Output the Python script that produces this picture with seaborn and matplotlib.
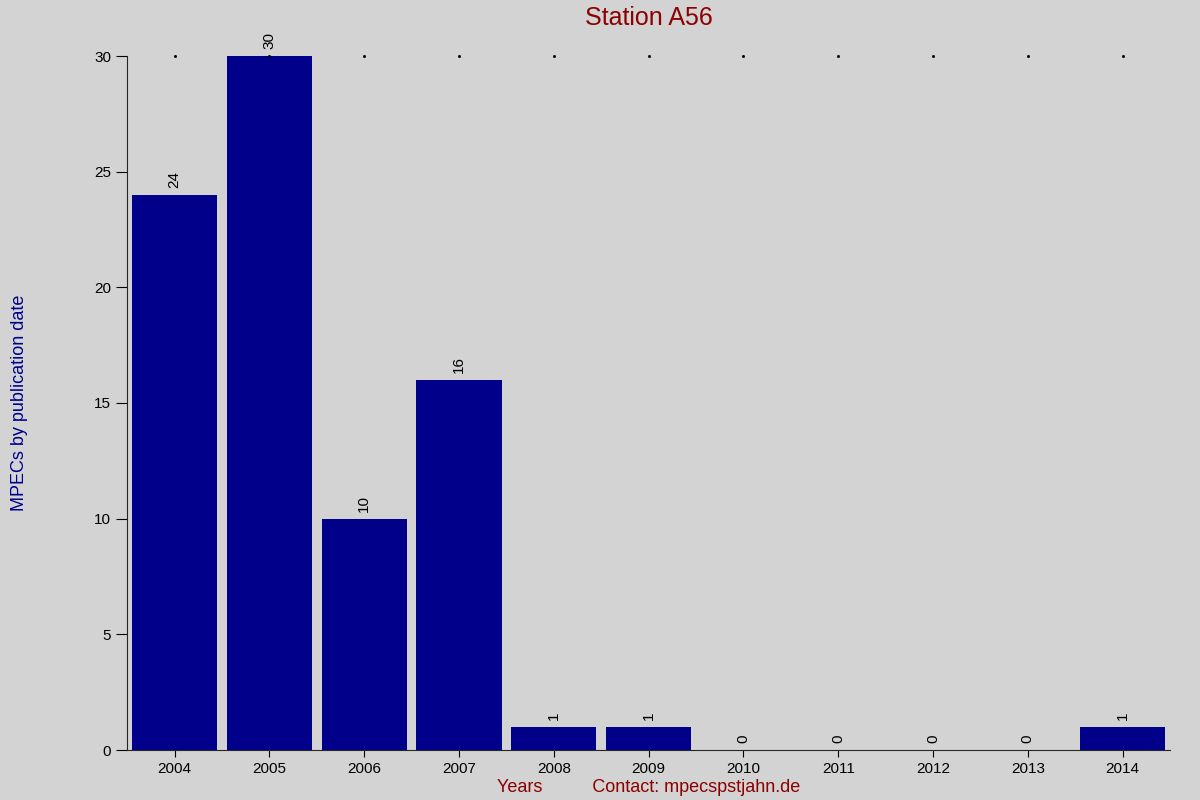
import matplotlib
matplotlib.use("Agg")
import matplotlib.pyplot as plt
import seaborn as sns
import pandas as pd

years = ["2004", "2005", "2006", "2007", "2008", "2009", "2010", "2011", "2012", "2013", "2014"]
counts = [24, 30, 10, 16, 1, 1, 0, 0, 0, 0, 1]

sns.set_style("ticks")
plt.rcParams["font.family"] = ["Liberation Sans", "DejaVu Sans"]

df = pd.DataFrame({"year": years, "count": counts})

fig = plt.figure(figsize=(12, 8), dpi=100, facecolor="#d3d3d3")
ax = fig.add_axes([0.106, 0.0625, 0.869, 0.8675])
ax.set_facecolor("#d3d3d3")
sns.barplot(data=df, x="year", y="count", color="#00008b", saturation=1,
            width=0.9, edgecolor="none", linewidth=0, ax=ax)

for i, v in enumerate(counts):
    ax.text(i, v + 0.3, str(v), rotation=90, ha="center", va="bottom",
            fontsize=11, color="black")

ax.set_xlim(-0.5, 10.5)
ax.set_ylim(0, 30)
ax.set_yticks([0, 5, 10, 15, 20, 25, 30])
ax.tick_params(axis="y", direction="out", length=8, labelsize=11, colors="black")
ax.tick_params(axis="x", direction="out", length=5, labelsize=11, colors="black")
for i in range(len(years)):
    ax.plot(i, 30, marker="s", markersize=1, color="black", clip_on=False)
for s in ["top", "right"]:
    ax.spines[s].set_visible(False)
ax.set_title("Station A56", color="#8b0000", fontsize=18, pad=22)
ax.set_xlabel("Years          Contact: mpecspstjahn.de", color="#8b0000", fontsize=13, labelpad=2)
ax.set_ylabel("MPECs by publication date", color="#00008b", fontsize=13)
ax.yaxis.set_label_coords(-0.095, 0.5)

fig.savefig("out.png", dpi=100, facecolor=fig.get_facecolor())
